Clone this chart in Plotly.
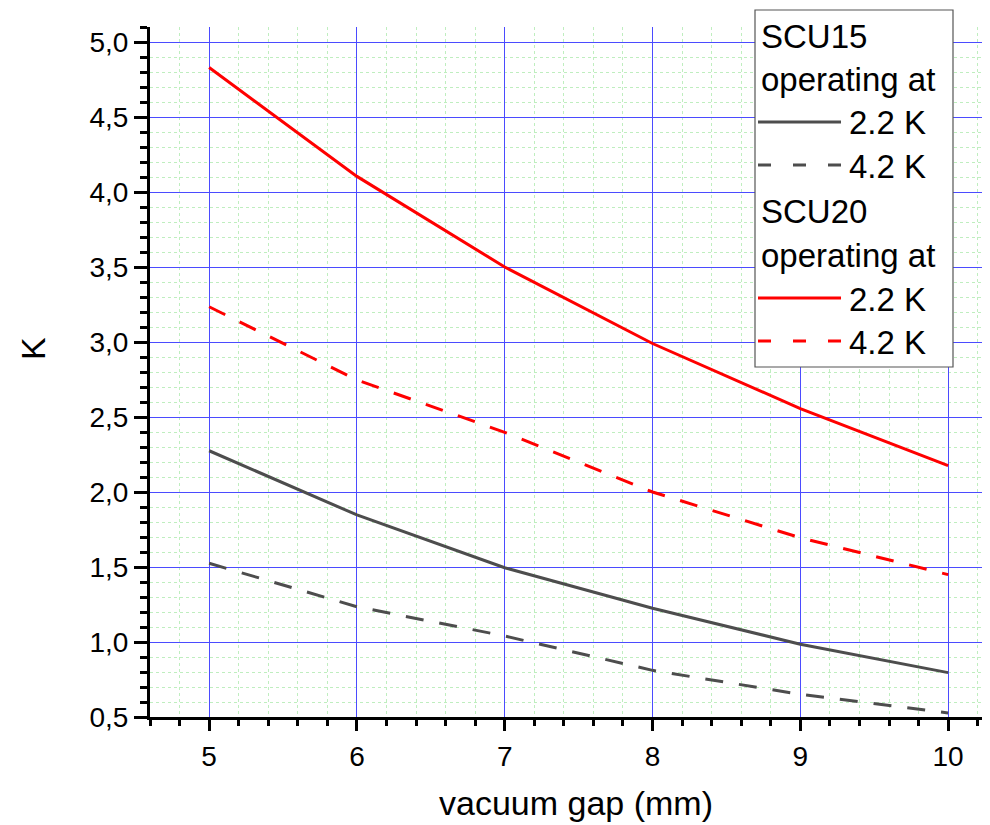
import plotly.graph_objects as go

gap_mm = [5, 6, 7, 8, 9, 10]
scu15_22K = [2.275, 1.847, 1.495, 1.225, 0.985, 0.796]
scu15_42K = [1.525, 1.235, 1.04, 0.811, 0.651, 0.527]
scu20_22K = [4.83, 4.104, 3.50, 2.99, 2.556, 2.176]
scu20_42K = [3.235, 2.747, 2.398, 2.0, 1.695, 1.449]

x_title = "vacuum gap (mm)"
y_title = "K"
legend_rows = ["SCU15", "operating at", "2.2 K", "4.2 K",
               "SCU20", "operating at", "2.2 K", "4.2 K"]

GRAY = "#4d4d4d"
RED = "#ff0000"
FONT = "Liberation Sans, Arial, sans-serif"

OFF = 8  # page body margin
W, H = 990, 825
# plot area in window pixels: left 150, top 27, bottom 717
L, T = 150 - OFF, 27 - OFF
B = H - (717 - OFF)
R = 0
PW, PH = W - L - R, H - T - B


def px(x):
    return (x - OFF - L) / PW


def py(y):
    return (H - B - (y - OFF)) / PH


# minor tick positions (excluding major positions)
x_minor = [round(4.6 + 0.2 * i, 1) for i in range(0, 30) if (i - 2) % 5 != 0]
y_minor = [round(0.5 + 0.1 * i, 1) for i in range(0, 47) if i % 5 != 0]

fig = go.Figure()
series = [
    (scu15_22K, GRAY, "solid"),
    (scu15_42K, GRAY, "18px,16px"),
    (scu20_22K, RED, "solid"),
    (scu20_42K, RED, "18px,16px"),
]
for vals, col, dash in series:
    fig.add_trace(go.Scatter(x=gap_mm, y=vals, mode="lines",
                             line=dict(color=col, width=3, dash=dash),
                             showlegend=False, hoverinfo="skip"))

shapes = []
annotations = []
shapes.append(dict(type="rect", xref="paper", yref="paper",
                   x0=px(755), x1=px(953), y0=py(367), y1=py(10),
                   fillcolor="white", line=dict(color="#555555", width=1.2),
                   layer="above"))
row_y = [35, 79, 122, 165, 210, 254, 298, 341]
samples = {2: (GRAY, "solid"), 3: (GRAY, "13px,22px"),
           6: (RED, "solid"), 7: (RED, "13px,22px")}
for i, txt in enumerate(legend_rows):
    if i in samples:
        col, dash = samples[i]
        shapes.append(dict(type="line", xref="paper", yref="paper",
                           x0=px(758), x1=px(841), y0=py(row_y[i]), y1=py(row_y[i]),
                           line=dict(color=col, width=3, dash=dash), layer="above"))
        xt = 847
    else:
        xt = 759
    annotations.append(dict(text=txt, xref="paper", yref="paper",
                            x=px(xt), y=py(row_y[i] + 1), xanchor="left", yanchor="middle",
                            showarrow=False,
                            font=dict(family=FONT, size=33, color="black")))

annotations.append(dict(text=x_title, xref="paper", yref="paper",
                        x=px(576), y=py(803), xanchor="center", yanchor="middle",
                        showarrow=False, font=dict(family=FONT, size=34, color="black")))
annotations.append(dict(text=y_title, xref="paper", yref="paper",
                        x=px(33), y=py(348), xanchor="center", yanchor="middle",
                        textangle=-90, showarrow=False,
                        font=dict(family=FONT, size=34, color="black")))

fig.update_layout(
    width=W, height=H,
    margin=dict(l=L, r=R, t=T, b=B),
    paper_bgcolor="white", plot_bgcolor="white",
    separators=", ",
    font=dict(family=FONT, size=28, color="black"),
    shapes=shapes, annotations=annotations,
    showlegend=False,
)
fig.update_xaxes(
    range=[4.6, 4.6 + PW / 147.8],
    tick0=5, dtick=1, ticks="outside", ticklen=11, tickwidth=2.5, tickcolor="black",
    showline=True, linecolor="black", linewidth=3,
    showgrid=True, gridcolor="#4b4bff", gridwidth=1.4,
    zeroline=False, ticklabelstandoff=1,
    minor=dict(tickmode="array", tickvals=x_minor, ticks="outside", ticklen=6,
               tickwidth=2.5, tickcolor="black",
               showgrid=True, gridcolor="#bfeebf", griddash="dot", gridwidth=1),
)
fig.update_yaxes(
    range=[0.5, 5.1],
    tick0=0.5, dtick=0.5, tickformat=".1f", ticks="outside", ticklen=13, tickwidth=2.5,
    tickcolor="black",
    showline=True, linecolor="black", linewidth=3,
    showgrid=True, gridcolor="#4b4bff", gridwidth=1.4,
    zeroline=False, ticklabelstandoff=0,
    minor=dict(tickmode="array", tickvals=y_minor, ticks="outside", ticklen=7,
               tickwidth=2.5, tickcolor="black",
               showgrid=True, gridcolor="#bfeebf", griddash="dot", gridwidth=1),
)

fig.write_html("out.html")
